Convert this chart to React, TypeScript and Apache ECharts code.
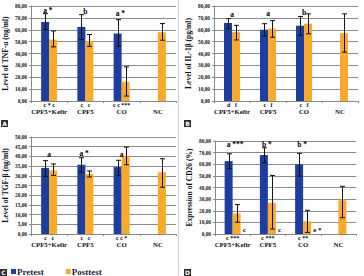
import React, { useEffect, useRef } from 'react';
import * as echarts from 'echarts';

const categories = ['CPF5+Kefir', 'CPF5', 'CO', 'NC'];

// Panel A: TNF-α
const tnfPre = [66.6, 62.4, 56.8, null];
const tnfPreLow = [60.1, 51.7, 46.2, null];
const tnfPreHigh = [73.6, 72.7, 68.5, null];
const tnfPost = [51.7, 50.6, 16.2, 57.9];
const tnfPostLow = [45.6, 46, 4.2, 51.2];
const tnfPostHigh = [59, 56, 28.8, 65.2];
const tnfTop = ['a *', 'b', 'a *', ''];
const tnfTopY = [76, 75.5, 74, null];
const tnfSub = ['c * c', 'c   c', 'c c ***', ''];

// Panel B: IL-1β
const ilPre = [65.7, 60, 63.4, null];
const ilPreLow = [60.9, 54.9, 55.1, null];
const ilPreHigh = [69.4, 65.1, 71.1, null];
const ilPost = [58, 60.9, 65.1, 57.1];
const ilPostLow = [51.4, 53.7, 56.6, 41.1];
const ilPostHigh = [63.7, 67.7, 73.4, 73.4];
const ilTop = ['a', 'a', 'b', ''];
const ilTopY = [72.5, 73.3, 74.7, null];
const ilSub = ['d   f', 'c   f', 'c   f', ''];

// Panel C: TGF-β
const tgfPre = [34, 35.7, 34.5, null];
const tgfPreLow = [29.7, 31.8, 30.1, null];
const tgfPreHigh = [37.8, 39.3, 38, null];
const tgfPost = [32.8, 30.9, 40.4, 31.8];
const tgfPostLow = [30.2, 29.4, 35.7, 24.1];
const tgfPostHigh = [36.1, 32.5, 44.8, 38.8];
const tgfTop = ['a', 'a *', 'a', ''];
const tgfTopY = [41.2, 41.5, 41.2, null];
const tgfSub = ['c   c', 'c   c', 'c c *', ''];

// Panel D: CD26
const cdPre = [62.7, 67.9, 59.9, null];
const cdPreLow = [56.4, 61.3, 49.8, null];
const cdPreHigh = [69, 74.2, 69.4, null];
const cdPost = [17.6, 26.8, 10.9, 29];
const cdPostLow = [10.1, 4.3, 1.4, 14];
const cdPostHigh = [25.3, 50.4, 20.4, 41];
const cdTop = ['a ***', 'b *', 'b *', ''];
const cdTopY = [77, 77, 77, null];
const cdSub = ['c ***', 'c ***', 'c **', ''];
const cdSide = ['c', 'c', 'e *', ''];

const BLUE = '#1d3e9e';
const ORANGE = '#f9a92b';
const SERIF = '"Liberation Serif", "Times New Roman", serif';
const TXT = '#111111';

const fmt = (v: number) => v.toFixed(2).replace('.', ',');

export default function App() {
  const ref = useRef<HTMLDivElement>(null);
  useEffect(() => {
    if (!ref.current) return;
    const chart = echarts.init(ref.current, null, { renderer: 'svg' });

    const panels = [
      { grid: { left: 31, top: 6, width: 145, height: 95 }, max: 80, interval: 10, title: 'Level of TNF-α (ng/ml)',
        pre: tnfPre, preLow: tnfPreLow, preHigh: tnfPreHigh, post: tnfPost, postLow: tnfPostLow, postHigh: tnfPostHigh,
        top: tnfTop, topY: tnfTopY, sub: tnfSub, side: null as string[] | null },
      { grid: { left: 214, top: 6, width: 144, height: 95 }, max: 80, interval: 10, title: 'Level of IL-1β (pg/ml)',
        pre: ilPre, preLow: ilPreLow, preHigh: ilPreHigh, post: ilPost, postLow: ilPostLow, postHigh: ilPostHigh,
        top: ilTop, topY: ilTopY, sub: ilSub, side: null },
      { grid: { left: 31, top: 137, width: 145, height: 97 }, max: 50, interval: 5, title: 'Level of TGF-β (ng/ml)',
        pre: tgfPre, preLow: tgfPreLow, preHigh: tgfPreHigh, post: tgfPost, postLow: tgfPostLow, postHigh: tgfPostHigh,
        top: tgfTop, topY: tgfTopY, sub: tgfSub, side: null },
      { grid: { left: 215, top: 141, width: 141, height: 93 }, max: 80, interval: 10, title: 'Expression of CD26 (%)',
        pre: cdPre, preLow: cdPreLow, preHigh: cdPreHigh, post: cdPost, postLow: cdPostLow, postHigh: cdPostHigh,
        top: cdTop, topY: cdTopY, sub: cdSub, side: cdSide },
    ];

    const grids: any[] = [];
    const xAxes: any[] = [];
    const yAxes: any[] = [];
    const series: any[] = [];

    const errSeries = (i: number, low: (number | null)[], high: (number | null)[], offset: number) => ({
      type: 'custom',
      xAxisIndex: i,
      yAxisIndex: i,
      z: 10,
      silent: true,
      encode: { x: 0, y: [1, 2] },
      renderItem: (params: any, api: any) => {
        const k = api.value(0);
        const pLo = api.coord([k, api.value(1)]);
        const pHi = api.coord([k, api.value(2)]);
        const x = Math.round(pLo[0] + offset) + 0.5;
        const st = { stroke: '#111', lineWidth: 1 };
        return {
          type: 'group',
          children: [
            { type: 'line', shape: { x1: x, y1: pLo[1], x2: x, y2: pHi[1] }, style: st },
            { type: 'line', shape: { x1: x - 2.5, y1: pHi[1], x2: x + 2.5, y2: pHi[1] }, style: st },
            { type: 'line', shape: { x1: x - 2.5, y1: pLo[1], x2: x + 2.5, y2: pLo[1] }, style: st },
          ],
        };
      },
      data: low
        .map((lo, k) => (lo == null || high[k] == null ? null : [k, lo, high[k]]))
        .filter((d) => d != null),
    });

    const topSeries = (i: number, texts: string[], ys: (number | null)[]) => ({
      type: 'custom',
      xAxisIndex: i,
      yAxisIndex: i,
      z: 12,
      silent: true,
      itemStyle: { color: '#000' },
      encode: { x: 0, y: 1 },
      renderItem: (params: any, api: any) => {
        const k = api.value(0);
        const pt = api.coord([k, api.value(1)]);
        const t = texts[k];
        const star = t.includes('*');
        return {
          type: 'text',
          x: pt[0] + (star ? -6 : 0),
          y: pt[1],
          style: {
            text: t,
            fill: '#000',
            stroke: 'none',
            lineWidth: 0,
            fontFamily: 'Liberation Serif',
            fontWeight: 'bold',
            fontSize: 7.5,
            align: star ? 'left' : 'center',
            verticalAlign: 'middle',
          },
        };
      },
      data: ys.map((y, k) => (y == null || !texts[k] ? null : [k, y])).filter((d) => d != null),
    });

    panels.forEach((p, i) => {
      grids.push({ ...p.grid, containLabel: false });
      xAxes.push({
        type: 'category',
        gridIndex: i,
        data: categories,
        axisLine: { lineStyle: { color: '#888', width: 1 } },
        axisTick: { show: true, length: 2, lineStyle: { color: '#888' } },
        axisLabel: {
          interval: 0,
          margin: 1,
          formatter: (v: string, idx: number) => `{s|${p.sub[idx] || ' '}}\n{n|${v}}`,
          rich: {
            s: { fontFamily: SERIF, fontWeight: 'bold', fontSize: 6, lineHeight: 6, color: TXT },
            n: { fontFamily: SERIF, fontWeight: 'bold', fontSize: 6.8, lineHeight: 7, color: TXT },
          },
        },
      });
      yAxes.push({
        type: 'value',
        gridIndex: i,
        min: 0,
        max: p.max,
        interval: p.interval,
        name: p.title,
        nameLocation: 'middle',
        nameGap: 22,
        nameTextStyle: { fontFamily: SERIF, fontWeight: 'bold', fontSize: 7.5, color: TXT },
        axisLine: { show: true, lineStyle: { color: '#888', width: 1 } },
        axisTick: { show: true, length: 2, lineStyle: { color: '#888' } },
        axisLabel: { formatter: fmt, margin: 4, fontFamily: SERIF, fontWeight: 'bold', fontSize: 5.3, color: TXT },
        splitLine: { show: true, lineStyle: { color: '#8c8c8c', width: 1 } },
      });
      series.push({
        name: 'Pretest',
        type: 'bar',
        xAxisIndex: i,
        yAxisIndex: i,
        barWidth: 8,
        barGap: '0%',
        itemStyle: { color: BLUE },
        data: p.pre,
      });
      series.push({
        name: 'Posttest',
        type: 'bar',
        xAxisIndex: i,
        yAxisIndex: i,
        barWidth: 8,
        barGap: '0%',
        itemStyle: { color: ORANGE },
        data: p.post.map((v, k) =>
          p.side && p.side[k]
            ? {
                value: v,
                label: {
                  show: true,
                  formatter: p.side[k],
                  position: ['100%', '100%'],
                  align: 'left',
                  verticalAlign: 'bottom',
                  offset: [2, -1],
                  fontFamily: SERIF,
                  fontWeight: 'bold',
                  fontSize: 7,
                  color: TXT,
                },
              }
            : v
        ),
      });
      series.push(errSeries(i, p.preLow, p.preHigh, -4));
      series.push(errSeries(i, p.postLow, p.postHigh, 4));
      series.push(topSeries(i, p.top, p.topY));
    });

    const box = (x: number, y: number, letter: string) => ({
      type: 'group',
      children: [
        { type: 'rect', shape: { x, y, width: 7, height: 7 }, style: { fill: '#2e2e2e' } },
        {
          type: 'text',
          x: x + 3.5,
          y: y + 3.8,
          style: { text: letter, fill: '#fff', fontSize: 6, fontWeight: 'bold', fontFamily: 'DejaVu Sans', align: 'center', verticalAlign: 'middle' },
        },
      ],
    });

    chart.setOption({
      animation: false,
      backgroundColor: '#fff',
      grid: grids,
      xAxis: xAxes,
      yAxis: yAxes,
      series,
      legend: {
        data: ['Pretest', 'Posttest'],
        left: 6,
        top: 262,
        icon: 'rect',
        itemWidth: 5,
        itemHeight: 5,
        itemGap: 22,
        selectedMode: false,
        textStyle: { fontFamily: SERIF, fontWeight: 'bold', fontSize: 9, color: '#1b1f4f', padding: [0, 0, 0, -4] },
      },
      graphic: [
        { type: 'line', shape: { x1: 178.5, y1: 0, x2: 178.5, y2: 276 }, style: { stroke: '#cfcfcf', lineWidth: 1 } },
        box(1, 120, 'A'),
        box(184, 120, 'B'),
        box(0, 269, 'C'),
        box(184, 269, 'D'),
      ],
    });
    return () => chart.dispose();
  }, []);
  return <div ref={ref} style={{ position: 'fixed', left: 0, top: 0, width: 364, height: 276, background: '#fff' }} />;
}
